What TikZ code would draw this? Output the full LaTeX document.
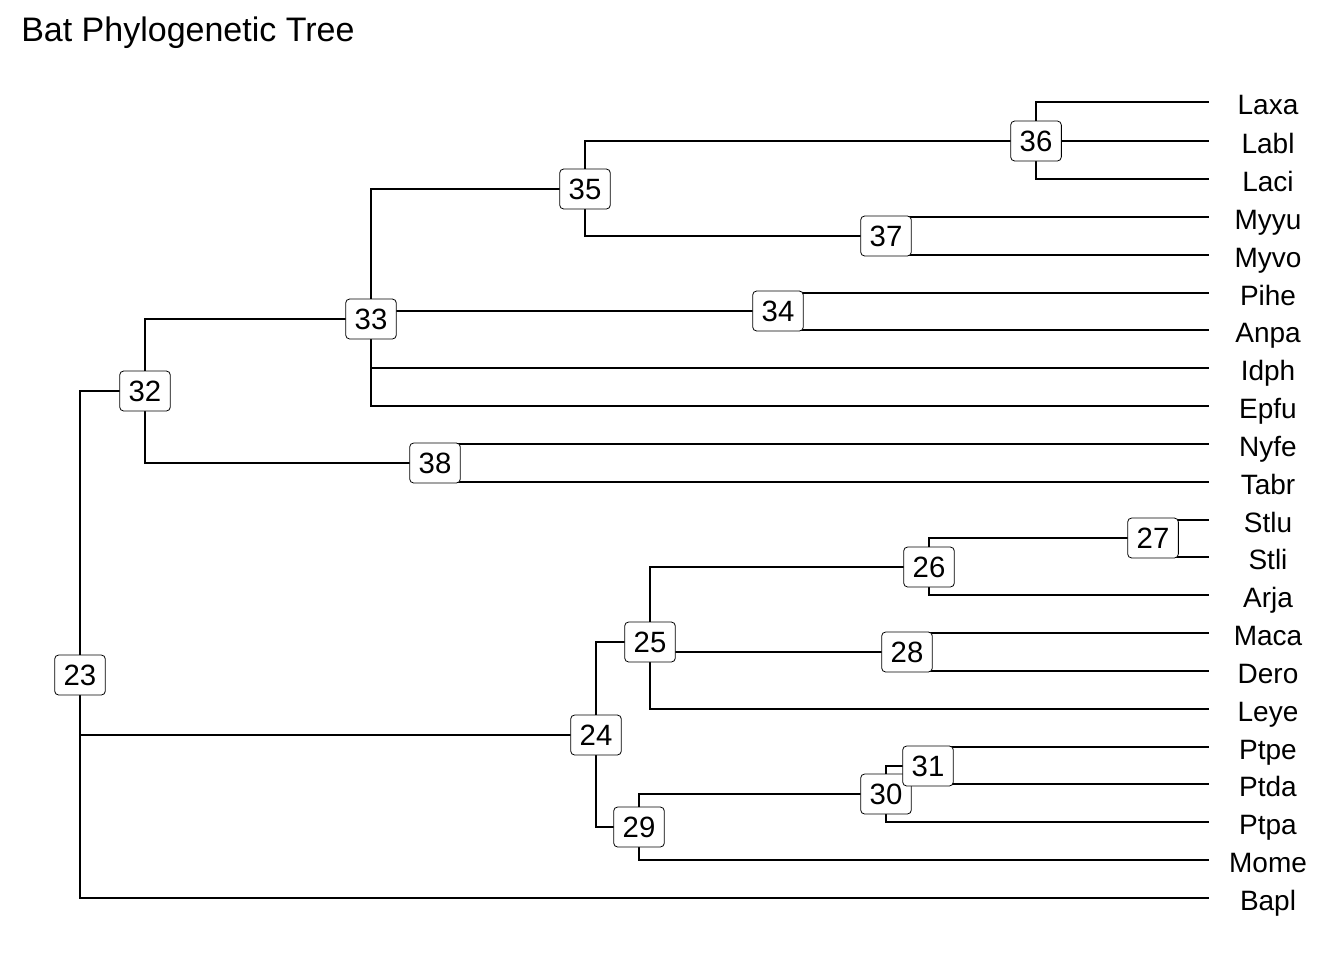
\documentclass[tikz,border=0pt]{standalone}
\usepackage{fontspec}
\setmainfont{Liberation Sans}
\begin{document}
\begin{tikzpicture}[x=0.75pt,y=-0.75pt,
  edge/.style={line width=1.5pt,line cap=rect},
  nbox/.style={draw,fill=white,rounded corners=3pt,line width=0.6pt,minimum width=38pt,minimum height=30pt,inner sep=0pt,font=\fontsize{22}{26}\selectfont},
  tiplab/.style={inner sep=0pt,anchor=base,font=\fontsize{21}{25}\selectfont}]
\useasboundingbox (0,0) rectangle (1344,960);
\node[anchor=base west,font=\fontsize{25.5}{30}\selectfont,inner sep=0pt] (title) at (21,41) {Bat Phylogenetic Tree};
% internal node positions
\coordinate (n23) at (80,675);
\coordinate (n32) at (145,391);
\coordinate (n33) at (371,319);
\coordinate (n35) at (585,189);
\coordinate (n36) at (1036,141);
\coordinate (n37) at (886,236);
\coordinate (n34) at (778,311);
\coordinate (n38) at (435,463);
\coordinate (n24) at (596,735);
\coordinate (n25) at (650,642);
\coordinate (n26) at (929,567);
\coordinate (n27) at (1153,538);
\coordinate (n28) at (907,652);
\coordinate (n29) at (639,827);
\coordinate (n30) at (886,794);
\coordinate (n31) at (928,766);
% tips
\foreach \nm/\yy in {Laxa/102,Labl/141,Laci/179,Myyu/217,Myvo/255,Pihe/293,Anpa/330,Idph/368,Epfu/406,Nyfe/444,Tabr/482,Stlu/520,Stli/557,Arja/595,Maca/633,Dero/671,Leye/709,Ptpe/747,Ptda/784,Ptpa/822,Mome/860,Bapl/898}{
  \coordinate (t\nm) at (1208,\yy);
  \node[tiplab] (l\nm) at (1268,\yy+12) {\nm};
}
% edges
\foreach \p/\c in {n23/n32,n23/n24,n23/tBapl,
  n32/n33,n32/n38,
  n33/n35,n33/n34,n33/tIdph,n33/tEpfu,
  n35/n36,n35/n37,
  n36/tLaxa,n36/tLabl,n36/tLaci,
  n37/tMyyu,n37/tMyvo,
  n34/tPihe,n34/tAnpa,
  n38/tNyfe,n38/tTabr,
  n24/n25,n24/n29,
  n25/n26,n25/n28,n25/tLeye,
  n26/n27,n26/tArja,
  n27/tStlu,n27/tStli,
  n28/tMaca,n28/tDero,
  n29/n30,n29/tMome,
  n30/n31,n30/tPtpa,
  n31/tPtpe,n31/tPtda}{
  \draw[edge] (\p) |- (\c);
}
% node boxes
\foreach \k in {23,32,33,35,36,37,34,38,24,25,26,27,28,29,30,31}{
  \node[nbox] (b\k) at (n\k) {\k};
}
\end{tikzpicture}
\end{document}
